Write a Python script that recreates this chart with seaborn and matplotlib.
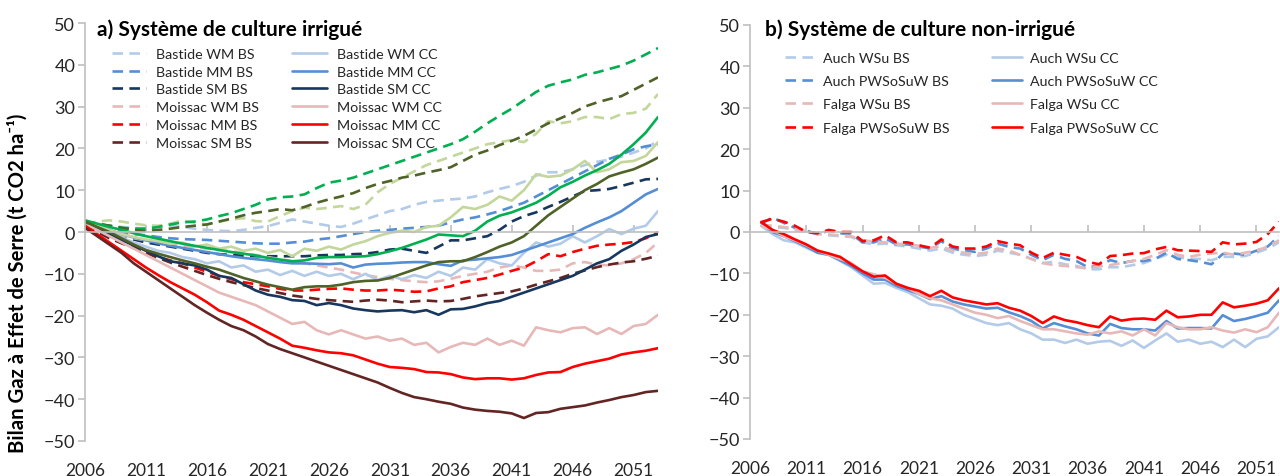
import numpy as np
import pandas as pd
import matplotlib
matplotlib.use('Agg')
import matplotlib.pyplot as plt
import seaborn as sns

# ---- data ----
years = list(range(2006, 2054))
years_b = list(range(2007, 2054))

# panel a) irrigated, BS = dashed, CC = solid
bastide_wm_bs = [2, 1.8, 1.5, 1.2, 1, 0.8, 1.2, 1.5, 1.2, 0.8, 0.5, 0.3,
                 0.2, 0.5, 1, 1.4, 2.2, 3, 2.5, 2, 1.5, 1.2, 2, 3,
                 4, 5, 5.5, 6.5, 7.2, 7.5, 7.8, 8, 8.5, 9.5, 10.3, 11,
                 12, 13.5, 14.3, 14.3, 15, 16, 16.8, 17.3, 18, 19, 20, 21.8]
bastide_mm_bs = [2, 1.2, 0.5, 0, -0.5, -0.8, -1.2, -1.5, -1.7, -1.8, -1.9, -2.1,
                 -2.3, -2.5, -2.7, -2.8, -2.8, -2.5, -2.3, -1.8, -1.5, -1, -0.5, 0,
                 0.3, 0.5, 0.8, 1, 1.2, 1.5, 2.3, 3, 3.5, 4.2, 5, 6,
                 7, 8.5, 10, 11.5, 13, 14.5, 16, 17.5, 18.5, 19.8, 20.5, 21]
bastide_sm_bs = [2, 1, 0, -1, -1.8, -2.5, -3, -3.5, -4, -4.5, -5, -5.3,
                 -5.5, -5.7, -5.8, -5.8, -5.8, -5.8, -5.8, -5.6, -5.5, -5.5, -5.3, -5.2,
                 -4.8, -4.2, -4, -4.5, -5, -3.5, -2, -2, -1.5, -1, 0.5, 2.5,
                 3.8, 4.7, 6, 7.2, 8.5, 9.8, 10, 10.3, 11, 11.8, 12.6, 12.7]
moissac_wm_bs = [2, 1, 0, -0.8, -1.5, -2, -2.5, -3, -3.3, -3.6, -4, -4.3,
                 -4.6, -5, -5.5, -6, -6.5, -7, -7.5, -8, -8.5, -9, -9.7, -10.3,
                 -10.8, -11.2, -11.5, -11.8, -12, -11.8, -11.2, -10.5, -10, -9.5, -8.5, -8,
                 -8.5, -9.3, -9.3, -9, -7.5, -7.2, -7.8, -8, -7.5, -6.5, -5, -2.5]
moissac_mm_bs = [2, 0.5, -1, -2.2, -3.5, -5, -6, -6.8, -7.5, -8.5, -9.5, -10.5,
                 -11.3, -12, -12.5, -13, -13.6, -14, -14, -13.8, -13.6, -13.5, -13.8, -14,
                 -14, -13.8, -14, -14.3, -14.2, -13.5, -13, -12, -11.5, -11, -10.2, -9.3,
                 -8.5, -7, -5.3, -5.8, -4.8, -4, -3.3, -3, -2.8, -2.4, -1.5, 0]
moissac_sm_bs = [1.5, 0, -1.5, -2.7, -3.8, -5, -6.2, -7.3, -8.3, -9.3, -10.3, -11.2,
                 -12, -12.7, -13.4, -14, -14.6, -15.2, -15.6, -16, -16.3, -16.5, -16.7, -16.4,
                 -16.2, -16.4, -16.8, -16.6, -16.4, -16.6, -16.5, -16, -15.4, -15, -14.6, -14.2,
                 -13.5, -12.6, -11.8, -11, -10, -9.2, -8.4, -7.8, -7.3, -7, -6.4, -5.7]
bastide_wm_cc = [2.5, 1.2, 0, -1.3, -2.5, -3.5, -4.5, -5, -6, -6.5, -7.5, -7,
                 -8.5, -8, -9.5, -9, -10.3, -9.3, -10.5, -9.5, -10.5, -10, -11.3, -10,
                 -11.5, -10.5, -11.3, -10.3, -11, -9.5, -10.5, -8.5, -9, -6.5, -7.5, -8,
                 -5, -2.5, -3.5, -2.8, -1, -2.5, -1, 0.7, -0.5, 0.8, 1.5, 5]
bastide_mm_cc = [2.5, 1.5, 0.5, -0.5, -1.3, -2, -2.7, -3.3, -3.8, -4.3, -4.8, -5.3,
                 -5.8, -6.2, -6.5, -6.8, -7.2, -7.5, -7.5, -7.6, -7.7, -7.5, -8.5, -7.8,
                 -7.6, -7.5, -7.3, -7.2, -7.2, -7.7, -8.1, -6.8, -6.6, -6.3, -6, -5.5,
                 -4.5, -3.5, -2.5, -1.5, -0.5, 1, 2.3, 3.5, 5, 7, 9, 10.3]
bastide_sm_cc = [2, 1, -0.5, -2, -3.2, -4.5, -5.8, -7, -7.5, -8, -9, -10.5,
                 -11, -12.5, -14, -15, -15.5, -16.3, -16.5, -17.5, -17, -17.5, -18.3, -18.7,
                 -19, -18.8, -18.7, -19.2, -18.7, -19.8, -18.5, -18.4, -17.8, -17, -16.5, -15.5,
                 -14.5, -13.5, -12.5, -11.5, -10.5, -9, -7.5, -6.5, -4.5, -3, -1.2, -0.5]
moissac_wm_cc = [2, 0.5, -1, -2.5, -4, -5.5, -7, -8.5, -10, -11.5, -13, -14.5,
                 -15.5, -16.5, -17.5, -19, -20.5, -22, -21.5, -23.5, -24.5, -23.5, -24.5, -25.5,
                 -25, -26, -25.5, -27, -26.5, -28.8, -27.5, -26.5, -27, -25.5, -27, -26,
                 -27.2, -22.8, -23.5, -24, -23, -22.8, -24.4, -23, -24.4, -22.5, -22, -19.8]
moissac_mm_cc = [1.5, -0.5, -2.5, -4.5, -6.5, -8.5, -10.3, -12, -13.5, -15, -16.8, -18.8,
                 -19.8, -21, -22.5, -24, -25.5, -27.2, -27.7, -28.3, -28.8, -29, -29.5, -30.5,
                 -31.5, -32.3, -32.5, -32.8, -33.5, -33.6, -34, -34.8, -35.2, -35, -35, -35.3,
                 -35, -34.2, -33.6, -33.5, -32.3, -31.5, -30.9, -30.3, -29.3, -28.8, -28.4, -27.8]
moissac_sm_cc = [1, -1, -3, -5, -7.5, -9.5, -11.5, -13.5, -15.5, -17.5, -19.3, -21,
                 -22.5, -23.5, -25, -26.8, -28, -29, -30, -31, -32, -33, -34, -35,
                 -36, -37.3, -38.5, -39.5, -40, -40.6, -41.1, -42, -42.5, -42.8, -43, -43.4,
                 -44.5, -43.3, -43.1, -42.3, -41.9, -41.5, -40.8, -40.2, -39.5, -39, -38.3, -38]
# green series (third site, not in the legend)
vert_wm_bs = [2, 2.5, 2.8, 2.5, 2, 1.6, 1.5, 2, 2.8, 2.2, 1.8, 2.5,
              3, 3.3, 2.6, 2.5, 3.8, 5, 5.8, 5.5, 5.8, 6.2, 5.5, 6.5,
              9.5, 11.5, 13, 14.5, 16, 17, 18, 19, 20, 21, 21.5, 22,
              21.5, 23.5, 26.5, 26, 26.5, 27.5, 27.5, 27, 28.2, 28.5, 29.5, 33]
vert_mm_bs = [2.5, 2, 1.5, 1, 0.8, 0.8, 1.2, 1.8, 2.3, 2.5, 3, 3.8,
              4.5, 5.5, 6.5, 7.8, 8.3, 8.5, 9, 10.5, 11.8, 12.3, 13, 14,
              15, 16, 17, 18, 19, 20, 21, 22.2, 24, 26, 27.8, 29.5,
              31.5, 33.5, 35, 35.8, 36.5, 37.6, 38.2, 39, 39.8, 41, 42.5, 44]
vert_sm_bs = [2.2, 2, 1.5, 1, 0.5, 0.2, 0.5, 0.8, 1.2, 1.5, 1.8, 2.5,
              3.2, 4, 4.6, 5, 5.5, 5.2, 6, 7, 7.8, 8.5, 9.3, 10.5,
              11.5, 12.2, 13, 13.5, 14.2, 14.8, 15.5, 17, 18.5, 19.5, 20.8, 21.8,
              23, 24.5, 26, 27.2, 28.5, 30, 31, 31.8, 32.5, 34, 35.5, 37]
vert_wm_cc = [2.5, 1.5, 0.5, -0.5, -1.2, -1.8, -2.2, -2.8, -2.5, -3.5, -3, -4,
              -3.5, -4.5, -4, -5, -4.3, -5.8, -4, -4.5, -3.5, -4.2, -3, -2.2,
              -1, -0.2, 0.3, 0, 1.2, 1.5, 3.5, 6, 5.5, 6.5, 8.5, 7.5,
              10, 13.8, 13.2, 13.5, 15, 17, 14.3, 15, 16.7, 17, 18.2, 21.5]
vert_mm_cc = [2.8, 2, 1.2, 0.5, -0.3, -1, -1.6, -2.2, -2.8, -3.3, -3.8, -4.3,
              -4.8, -5.2, -5.6, -6.2, -6.6, -7, -6.8, -6.2, -6, -6, -5.9, -5.8,
              -5.3, -4.6, -3.8, -2.8, -1.8, -0.6, -0.8, -1, 0.3, 2.5, 3.9, 4.7,
              5.8, 7, 8.7, 10.7, 12, 13.5, 14.8, 16.3, 18.5, 21, 23.8, 27.5]
vert_sm_cc = [2.5, 1.2, 0, -1.5, -3, -4.3, -5.2, -6, -6.8, -7.5, -8.3, -9,
              -10, -11, -11.8, -12.6, -13.2, -13.8, -13.2, -13, -13, -12.6, -12, -11.7,
              -11.6, -11, -10, -9, -8, -7.2, -7, -7, -6, -4.8, -3.5, -2.5,
              -1, 1.5, 4, 6, 8, 10, 11.5, 13.3, 14.2, 15, 16.3, 17.8]

# panel b) non-irrigated, 2007-2053
auch_wsu_bs = [1.5, 1.2, 1, 0.5, 0, -0.5, -0.8, -1, -1.2, -2.5, -3, -2.8,
               -3.2, -3.5, -4, -4.5, -4, -5, -5.5, -5.8, -5.5, -4.5, -5, -5.5,
               -6.5, -7.5, -7.2, -7.8, -8.2, -9, -9, -8.5, -8.5, -8, -7.5, -6.5,
               -5.5, -6, -6.5, -6.5, -6.8, -6, -6, -5.8, -5, -4, -2.5]
auch_pw_bs = [2, 3.5, 2.2, 1, 0.3, -0.5, 0.3, -0.3, -0.5, -2.5, -2.5, -1.5,
              -3, -3, -3.5, -4, -2.2, -4, -4.5, -4.8, -4, -2.8, -3.6, -4,
              -5.5, -6.8, -5.5, -6.5, -7, -8.5, -8.2, -6.8, -7.5, -7, -7, -6.5,
              -5, -6.5, -6.8, -7.2, -7.8, -5.3, -5.2, -5.5, -4.5, -3.5, -1]
falga_wsu_bs = [1.8, 1.5, 1.2, 0.8, 0.2, -0.3, -0.6, -0.8, -1, -2, -2.3, -2.5,
                -2.8, -3, -3.3, -3.8, -3.5, -4.5, -5, -5.3, -5, -4, -4.5, -5.5,
                -6.5, -7.5, -8, -8.2, -8.5, -8.7, -8.3, -8, -7.5, -7, -6.5, -5.5,
                -4.4, -5.5, -6, -5.5, -5.2, -5, -5.5, -5, -4.5, -3.5, -2]
falga_pw_bs = [2.4, 3.2, 2.5, 1.5, 0, -0.3, 0.5, 0, 0, -2.2, -2, -0.8,
               -2.5, -2.5, -3.2, -3.8, -1.8, -3.5, -4, -4, -3.5, -2.2, -2.8, -3.2,
               -5, -6.3, -5, -5.5, -6, -7.2, -7.8, -5.8, -5.6, -5.2, -5.1, -4.2,
               -3.6, -4.4, -4.5, -4.6, -4.8, -2.5, -3, -2.8, -2.4, -0.5, 2.5]
auch_wsu_cc = [1.5, -0.5, -2, -2.5, -3.8, -5, -5.5, -7, -8.5, -10.5, -12.5, -12.3,
               -13.5, -14.5, -16, -17.5, -17.8, -18.5, -20, -21, -22, -22.5, -22, -23.5,
               -24.5, -26, -26, -26.8, -26, -27, -26.5, -26.3, -27.5, -26.2, -28, -26.2,
               -24.5, -26.5, -26, -27, -26.5, -27.8, -26, -27.8, -25.8, -25.2, -23]
auch_pw_cc = [2.2, 0, -1, -2.2, -3.5, -5, -5.5, -6.8, -8.2, -10, -11.5, -11.5,
              -13, -14, -15, -16.2, -15.5, -16.8, -17.5, -18, -18.5, -18.3, -19.4, -20.3,
              -21.5, -23.3, -22, -22.8, -23.5, -24.5, -25, -22.2, -23.2, -23.5, -23.5, -23.8,
              -21.5, -23.3, -23.2, -23.2, -23.3, -20.1, -21.5, -21, -20.3, -19.5, -16.5]
falga_wsu_cc = [1.5, 0.5, -1, -2, -3.2, -4.5, -5.5, -6.5, -7.5, -9.5, -10.2, -11,
                -12.5, -13.5, -15, -16, -16.5, -17.5, -18.5, -19.5, -20, -20.8, -20.3, -21.5,
                -22.5, -23.5, -23.5, -24, -24.5, -24.8, -24, -24.5, -24, -25, -23.5, -25,
                -22, -23, -23.5, -23.5, -23, -23.8, -24.3, -23.5, -24.2, -23, -19.5]
falga_pw_cc = [2.4, 0.5, -0.5, -1.8, -3, -4.5, -5.2, -6, -7.8, -9.5, -10.8, -10.5,
               -12.5, -13.5, -14.2, -15.5, -14.2, -15.8, -16.5, -17, -17.5, -17.2, -18.3, -19,
               -20.3, -22, -20.4, -21.3, -21.8, -22.5, -23, -20.4, -21.4, -21, -20.9, -21.2,
               -19, -20.6, -20.4, -20, -20, -17, -18.2, -17.8, -17.3, -16.5, -13.6]

# ---- styles ----
c_lblue, c_blue, c_navy = '#B3CBE8', '#558ED5', '#17375E'
c_pink, c_red, c_brown = '#E6B9B8', '#FF0000', '#632523'
c_lgreen, c_green, c_olive = '#C3D69B', '#00B050', '#4F6228'
DASH = (0, (4, 2.4))
LW = 1.9

series_a = [
    ('Bastide WM BS', bastide_wm_bs, c_lblue, True),
    ('Bastide MM BS', bastide_mm_bs, c_blue, True),
    ('Bastide SM BS', bastide_sm_bs, c_navy, True),
    ('Moissac WM BS', moissac_wm_bs, c_pink, True),
    ('Moissac MM BS', moissac_mm_bs, c_red, True),
    ('Moissac SM BS', moissac_sm_bs, c_brown, True),
    ('Bastide WM CC', bastide_wm_cc, c_lblue, False),
    ('Bastide MM CC', bastide_mm_cc, c_blue, False),
    ('Bastide SM CC', bastide_sm_cc, c_navy, False),
    ('Moissac WM CC', moissac_wm_cc, c_pink, False),
    ('Moissac MM CC', moissac_mm_cc, c_red, False),
    ('Moissac SM CC', moissac_sm_cc, c_brown, False),
]
series_green = [
    (vert_wm_bs, c_lgreen, True), (vert_mm_bs, c_green, True), (vert_sm_bs, c_olive, True),
    (vert_wm_cc, c_lgreen, False), (vert_mm_cc, c_green, False), (vert_sm_cc, c_olive, False),
]
series_b = [
    ('Auch WSu BS', auch_wsu_bs, c_lblue, True),
    ('Auch PWSoSuW BS', auch_pw_bs, c_blue, True),
    ('Falga WSu BS', falga_wsu_bs, c_pink, True),
    ('Falga PWSoSuW BS', falga_pw_bs, c_red, True),
    ('Auch WSu CC', auch_wsu_cc, c_lblue, False),
    ('Auch PWSoSuW CC', auch_pw_cc, c_blue, False),
    ('Falga WSu CC', falga_wsu_cc, c_pink, False),
    ('Falga PWSoSuW CC', falga_pw_cc, c_red, False),
]

sns.set_theme(style='white')
plt.rcParams['font.family'] = ['Lato', 'DejaVu Sans']
TXT = '#262626'
GRID = '#BFBFBF'

fig = plt.figure(figsize=(12.8, 4.77), dpi=100)
W, H = 1280, 477
ax1 = fig.add_axes([85 / W, 1 - 442 / H, (658 - 85) / W, (442 - 24) / H])
ax2 = fig.add_axes([750 / W, 1 - 440 / H, (1279 - 750) / W, (440 - 26) / H])


def draw(ax, x, y, color, dashed, label=None):
    sns.lineplot(x=x, y=y, ax=ax, color=color, lw=LW, legend=False,
                 linestyle=DASH if dashed else '-', label=label)
    return ax.lines[-1]


handles_a = [draw(ax1, years, v, c, d, n) for n, v, c, d in series_a]
for v, c, d in series_green:
    draw(ax1, years, v, c, d)
handles_b = [draw(ax2, years_b, v, c, d, n) for n, v, c, d in series_b]

for ax in (ax1, ax2):
    ax.set_xlim(2006, 2053)
    ax.set_ylim(-50, 50)
    ax.set_yticks(range(-50, 51, 10))
    ax.set_xticks(range(2006, 2053, 5))
    ax.set_xlabel('')
    ax.set_ylabel('')
    ax.spines['right'].set_visible(False)
    ax.spines['bottom'].set_visible(False)
    ax.spines['top'].set_position(('data', 0))
    for s in ('top', 'left'):
        ax.spines[s].set_color(GRID)
        ax.spines[s].set_linewidth(1.2)
    ax.tick_params(axis='x', top=True, bottom=False, labeltop=False, labelbottom=True,
                   direction='out', length=5, width=1.2, color=GRID,
                   labelsize=12.5, labelcolor=TXT, pad=10)
    ax.tick_params(axis='y', left=True, direction='out', length=5, width=1.2,
                   color=GRID, labelsize=13, labelcolor=TXT, pad=2)
    ax.set_facecolor('white')

fig.text(97 / W, 1 - 30 / H, 'a) Système de culture irrigué', fontsize=15,
         fontweight='bold', color='black', va='center', ha='left')
fig.text(765 / W, 1 - 30 / H, 'b) Système de culture non-irrigué', fontsize=15,
         fontweight='bold', color='black', va='center', ha='left')
fig.text(18 / W, 1 - 283 / H, 'Bilan Gaz à Effet de Serre (t CO2 ha⁻¹)', fontsize=14.6,
         fontweight='bold', color='black', rotation=90, va='center', ha='center')

ax1.legend(handles=handles_a, ncol=2, frameon=False, fontsize=10.3,
           loc='upper left', bbox_to_anchor=(112 / W, 1 - 49 / H),
           bbox_transform=fig.transFigure, borderpad=0, borderaxespad=0,
           handlelength=2.4, handletextpad=0.7, columnspacing=2.3,
           labelspacing=0.4, labelcolor=TXT)
ax2.legend(handles=handles_b, ncol=2, frameon=False, fontsize=10.3,
           loc='upper left', bbox_to_anchor=(785 / W, 1 - 53 / H),
           bbox_transform=fig.transFigure, borderpad=0, borderaxespad=0,
           handlelength=2.1, handletextpad=0.55, columnspacing=3.0,
           labelspacing=0.78, labelcolor=TXT)

fig.savefig('out.png', dpi=100, facecolor='white')
